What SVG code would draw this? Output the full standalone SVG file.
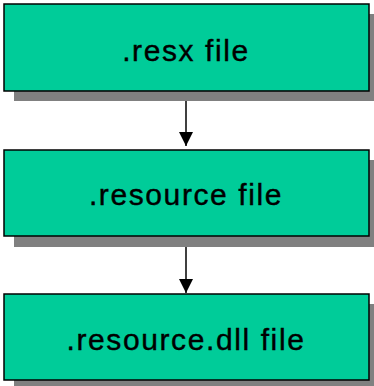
<svg xmlns="http://www.w3.org/2000/svg" width="374" height="386" viewBox="0 0 374 386">
<style>
.shadow{fill:#808080;}
.box{fill:#00CC99;stroke:#000;stroke-width:1.5;}
.lbl{font-family:"Liberation Sans",Arial,sans-serif;font-size:30px;letter-spacing:1.6px;fill:#000;stroke:#000;stroke-width:0.4;text-anchor:middle;}
.conn{stroke:#000;stroke-width:1.5;fill:none;}
</style>
<defs>
<marker id="ah" viewBox="0 0 14 14" refX="14" refY="7" markerWidth="14" markerHeight="14" markerUnits="userSpaceOnUse" orient="auto">
<path d="M0,0 L14,7 L0,14 Z" fill="#000"/>
</marker>
</defs>
<rect width="374" height="386" fill="#fff"/>
<g id="n1">
<rect class="shadow" x="14" y="14" width="365" height="87"/>
<rect class="box" x="4" y="4" width="365" height="87"/>
<text class="lbl" x="186" y="61">.resx file</text>
</g>
<g id="n2">
<rect class="shadow" x="14" y="160" width="365" height="87"/>
<rect class="box" x="4" y="150" width="365" height="86"/>
<text class="lbl" x="186" y="205">.resource file</text>
</g>
<g id="n3">
<rect class="shadow" x="14" y="304" width="365" height="87"/>
<rect class="box" x="4" y="294" width="365" height="86"/>
<text class="lbl" x="186" y="350">.resource.dll file</text>
</g>
<g id="connectors">
<line class="conn" x1="186" y1="101" x2="186" y2="146" marker-end="url(#ah)"/>
<line class="conn" x1="186" y1="247" x2="186" y2="293" marker-end="url(#ah)"/>
</g>
</svg>
